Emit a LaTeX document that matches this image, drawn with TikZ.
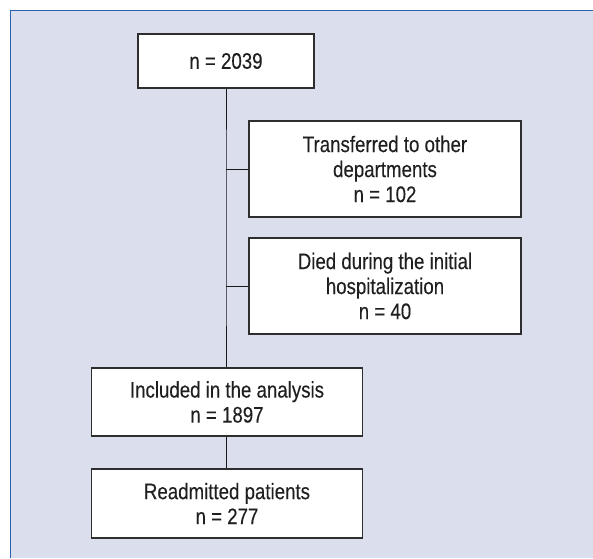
\documentclass[tikz,border=0pt]{standalone}
\usepackage{fontspec}
\setmainfont{Liberation Sans}[FakeStretch=0.83, FakeBold=0.15]
\definecolor{panelbg}{HTML}{DADEED}
\definecolor{panelblue}{HTML}{2A62AC}
\definecolor{boxline}{HTML}{2E2E2E}
\begin{document}
\begin{tikzpicture}[x=1pt,y=-1pt,
  box/.style={draw=boxline, line width=1.1pt, fill=white, align=center,
    inner sep=0pt, font=\fontsize{22.5}{25}\selectfont, text=black!88},
  conn/.style={draw=black!90, line width=0.9pt}]
\useasboundingbox (0,0) rectangle (593,558);
\fill[white] (0,0) rectangle (593,558);
\fill[panelbg] (10.5,10.5) rectangle (593,558);
\draw[panelblue, line width=1.2pt] (10.5,558) -- (10.5,10.5) -- (593,10.5);
\node[box, minimum width=176pt, minimum height=54pt] (b1) at (226,61) {n = 2039};
\node[box, minimum width=272pt, minimum height=96pt] (b2) at (385,169) {Transferred to other\\departments\\n = 102};
\node[box, minimum width=272pt, minimum height=96pt] (b3) at (385,286) {Died during the initial\\hospitalization\\n = 40};
\node[box, minimum width=271pt, minimum height=68pt] (b4) at (227,402) {Included in the analysis\\n = 1897};
\node[box, minimum width=271pt, minimum height=69pt] (b5) at (227,503.5) {Readmitted patients\\n = 277};
\coordinate (j1) at (226,169);
\coordinate (j2) at (226,286);
\draw[conn] (b1.south) -- (j1) -- (j2) -- (b4.north -| b1.south);
\draw[conn] (j1) -- (b2.west);
\draw[conn] (j2) -- (b3.west);
\draw[conn] (b4.south -| b1.south) -- (b5.north -| b1.south);
\end{tikzpicture}
\end{document}
